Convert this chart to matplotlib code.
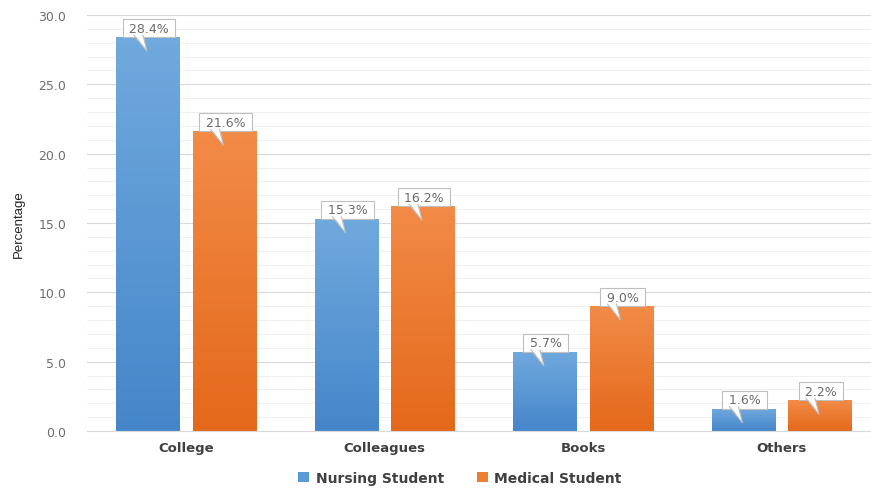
import matplotlib.pyplot as plt
import numpy as np
from matplotlib.ticker import MultipleLocator
from matplotlib.patches import Polygon
from matplotlib.colors import to_rgb

categories = ['College', 'Colleagues', 'Books', 'Others']
nursing = [28.4, 15.3, 5.7, 1.6]
medical = [21.6, 16.2, 9.0, 2.2]
series_names = ['Nursing Student', 'Medical Student']

blue = '#5B9BD5'
orange = '#ED7D31'

fig = plt.figure(figsize=(8.71, 4.89), dpi=100)
ax = fig.add_axes([87 / 871, 1 - 432 / 489, 784 / 871, (432 - 16) / 489])

x = np.arange(len(categories))
w = 0.32
gap = 0.066
off = (w + gap) / 2


def draw_gradient(bars, c_top, c_bot):
    top = np.array(to_rgb(c_top))
    bot = np.array(to_rgb(c_bot))
    for b in bars:
        x0, y0 = b.get_x(), b.get_y()
        grad = np.linspace(0, 1, 64).reshape(-1, 1, 1)
        img = top + (bot - top) * grad * np.ones((1, 1, 3))
        im = ax.imshow(img, extent=[x0, x0 + b.get_width(), y0, y0 + b.get_height()],
                       aspect='auto', zorder=2, origin='upper')
        im.set_clip_path(b)


b1 = ax.bar(x - off, nursing, w, color=blue, label=series_names[0], zorder=2)
b2 = ax.bar(x + off, medical, w, color=orange, label=series_names[1], zorder=2)
draw_gradient(b1, '#70A9DD', '#4586CA')
draw_gradient(b2, '#F28B47', '#E4691B')
ax.set_xlim(-0.5, 3.5 - 10 / 198)
ax.set_ylim(0, 30)

# callout labels (pixel offsets converted to data coords)
to_disp = ax.transData
to_data = ax.transData.inverted()
for bars, vals in [(b1, nursing), (b2, medical)]:
    for b, v in zip(bars, vals):
        cx = b.get_x() + b.get_width() / 2
        px, py = to_disp.transform((cx, v))
        tx, ty = to_data.transform((px + 1, py + 9))
        ax.text(tx, ty, f' {v:.1f}% ', ha='center', va='center', fontsize=9,
                color='#6A6A6A', zorder=5,
                bbox=dict(boxstyle='square,pad=0.2', fc='white', ec='#BFBFBF', lw=0.8))
        base_y = py + 9 - 7
        pts = np.array([(px - 14, base_y + 1.5), (px - 5, base_y + 1.5), (px - 1, py - 14)])
        ax.add_patch(Polygon(to_data.transform(pts), closed=True, fc='white', ec='none', zorder=6))
        edge = to_data.transform(np.array([(px - 14, base_y), (px - 1, py - 14), (px - 5, base_y)]))
        ax.plot(edge[:, 0], edge[:, 1], color='#BFBFBF', lw=0.8, zorder=7,
                solid_joinstyle='miter')

ax.yaxis.set_major_locator(MultipleLocator(5))
ax.yaxis.set_minor_locator(MultipleLocator(1))
ax.yaxis.set_major_formatter(plt.FormatStrFormatter('%.1f'))
ax.grid(axis='y', which='major', color='#D9D9D9', lw=0.8, zorder=0)
ax.grid(axis='y', which='minor', color='#EDEDED', lw=0.6, zorder=0)
ax.set_axisbelow(True)
for s in ['top', 'right', 'left']:
    ax.spines[s].set_visible(False)
ax.spines['bottom'].set_color('#D9D9D9')
ax.tick_params(axis='both', which='both', length=0)
ax.tick_params(axis='y', labelsize=9, labelcolor='#6E6E6E', pad=15)
ax.set_xticks(x)
ax.set_xticklabels(categories, fontsize=9.5, fontweight='bold', color='#404040')
ax.tick_params(axis='x', pad=7)

ax.set_ylabel('Percentage', fontsize=9.5, color='#262626',
              family=['Liberation Sans Narrow', 'Liberation Sans'], labelpad=10)

leg = fig.legend(handles=[b1, b2], labels=series_names, loc='center',
                 bbox_to_anchor=(460 / 871, 1 - 479 / 489), ncol=2, frameon=False,
                 fontsize=10, handlelength=0.75, handleheight=0.75, columnspacing=2.4,
                 handletextpad=0.5)
for t in leg.get_texts():
    t.set_fontweight('bold')
    t.set_color('#404040')

fig.savefig('out.png', dpi=100)
